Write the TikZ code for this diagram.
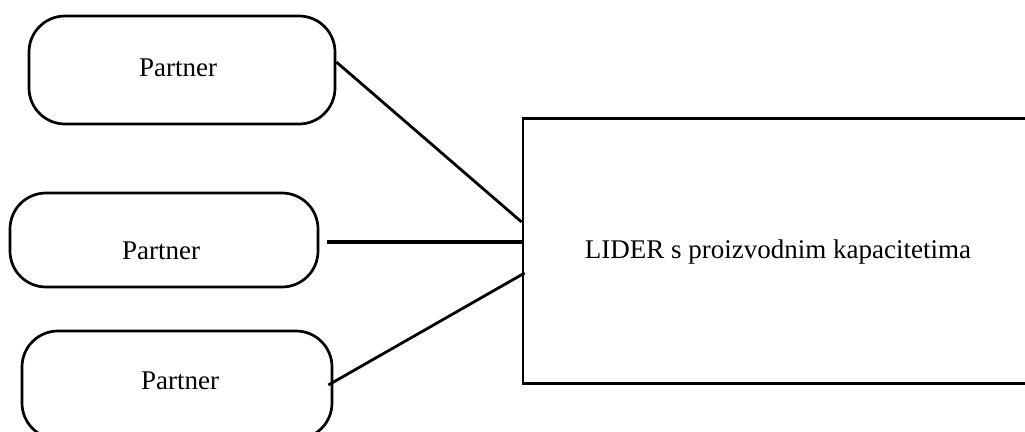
\documentclass[tikz,border=0pt]{standalone}
\usepackage{fontspec}
\setmainfont{Liberation Serif}
\begin{document}
\begin{tikzpicture}[x=1pt,y=-1pt,
  partnerbox/.style={draw,line width=2.7pt,rounded corners=36pt,inner sep=0pt},
  liderbox/.style={draw,line width=2.7pt,inner sep=0pt},
  lbl/.style={font=\fontsize{27}{32}\selectfont,inner sep=0pt},
  conn/.style={line width=2.8pt},
  thickconn/.style={line width=3.6pt}]
\useasboundingbox (0,0) rectangle (1025,431);
\clip (0,0) rectangle (1025,431);
% boxes
\node[partnerbox,minimum width=306pt,minimum height=108pt] (p1) at (182,70) {};
\node[partnerbox,minimum width=308pt,minimum height=94pt] (p2) at (164,240) {};
\node[partnerbox,minimum width=310pt,minimum height=108pt] (p3) at (177,385) {};
\node[liderbox,minimum width=510pt,minimum height=265pt] (L) at (778,251) {};
% texts
\node[lbl] (t1) at (178,68) {Partner};
\node[lbl] (t2) at (161,251) {Partner};
\node[lbl] (t3) at (180,381) {Partner};
\node[lbl] (tL) at (778,252) {LIDER s proizvodnim kapacitetima};
% connectors
\draw[conn] ([yshift=8pt]p1.east) -- ([yshift=29pt]L.west);
\draw[thickconn] ([xshift=8pt,yshift=-2pt]p2.east) -- ([yshift=9pt]L.west);
\draw[conn] ([xshift=-5pt]p3.east) -- ([xshift=3pt,yshift=-22pt]L.west);
\end{tikzpicture}
\end{document}
